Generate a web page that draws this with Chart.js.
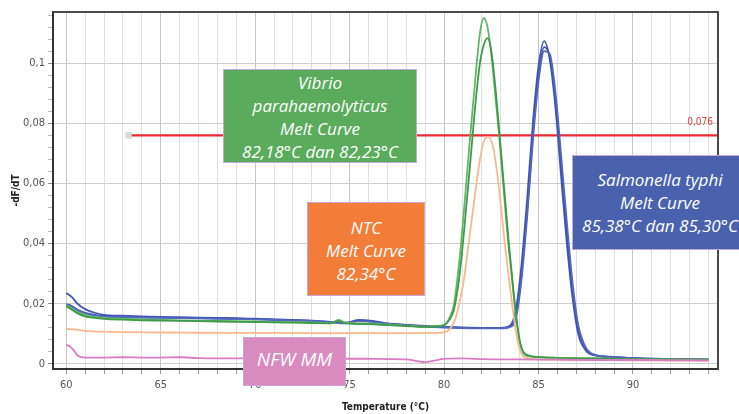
<!DOCTYPE html>
<html>
<head>
<meta charset="utf-8">
<script src="https://cdn.jsdelivr.net/npm/chart.js@4/dist/chart.umd.min.js"></script>
<style>
  html, body { margin:0; padding:0; background:#fff; width:739px; height:414px; overflow:hidden; }
  #wrap { position:relative; width:739px; height:414px; }
  canvas { position:absolute; left:0; top:0; }
  .box { position:absolute; color:#fff; font-family:"Open Sans", Lato, sans-serif; font-style:italic;
         font-size:17px; line-height:23px; text-align:center; display:flex; flex-direction:column;
         justify-content:center; border:1px solid #c9a6d8; box-sizing:border-box; white-space:nowrap; }
</style>
</head>
<body>
<div id="wrap">
  <canvas id="c" width="739" height="414"></canvas>
  <div class="box" style="left:223px;top:69px;width:194px;height:94px;background:#5bab5d;padding-top:2px;">
    <div>Vibrio</div><div>parahaemolyticus</div><div>Melt Curve</div><div>82,18°C dan 82,23°C</div>
  </div>
  <div class="box" style="left:307px;top:202px;width:118px;height:94px;background:#f17d38;padding-top:3px;">
    <div>NTC</div><div>Melt Curve</div><div>82,34°C</div>
  </div>
  <div class="box" style="left:572px;top:155px;width:176px;height:95px;background:#4a62ae;">
    <div>Salmonella typhi</div><div>Melt Curve</div><div>85,38°C dan 85,30°C</div>
  </div>
  <div class="box" style="left:243px;top:337px;width:103px;height:49px;background:#d98abf;font-size:19px;padding-bottom:4px;">
    <div>NFW MM</div>
  </div>
</div>
<script>
// ---------- DATA ----------
const xTickLabels = [60, 65, 70, 75, 80, 85, 90];
const yTickLabels = [0, 0.02, 0.04, 0.06, 0.08, 0.1];

const thresholdValue = 0.076;
const thresholdStart = 63.3;

const vibrioTemps = [60, 60.3, 60.6, 61, 61.5, 62, 63, 64, 65, 66, 67, 68, 69, 70, 71, 72, 73, 74, 74.4, 74.8, 76, 77, 78, 79, 79.6, 80, 80.3, 80.5, 80.7, 80.9, 81.1, 81.4, 81.7, 81.9, 82.1, 82.3, 82.5, 82.7, 82.9, 83.2, 83.4, 83.6, 83.8, 84.0, 84.2, 84.5, 85, 86, 88, 90, 92, 94];
const vibrioA = [0.0196, 0.0185, 0.0172, 0.0162, 0.0156, 0.0153, 0.0150, 0.0148, 0.0146, 0.0145, 0.0144, 0.0143, 0.0142, 0.0141, 0.0140, 0.0139, 0.0138, 0.0136, 0.0146, 0.0137, 0.0134, 0.0131, 0.0127, 0.0124, 0.0126, 0.0130, 0.0155, 0.0190, 0.0280, 0.0400, 0.0545, 0.0770, 0.0980, 0.1100, 0.1150, 0.1120, 0.1030, 0.0900, 0.0770, 0.0545, 0.0400, 0.0280, 0.0160, 0.0070, 0.0035, 0.0025, 0.0022, 0.0020, 0.0018, 0.0016, 0.0015, 0.0014];
const vibrioB = [0.0192, 0.0180, 0.0168, 0.0158, 0.0153, 0.0150, 0.0147, 0.0145, 0.0144, 0.0143, 0.0142, 0.0141, 0.0140, 0.0139, 0.0138, 0.0137, 0.0136, 0.0135, 0.0142, 0.0135, 0.0132, 0.0129, 0.0126, 0.0123, 0.0124, 0.0128, 0.0148, 0.0175, 0.0240, 0.0340, 0.0470, 0.0680, 0.0890, 0.1000, 0.1060, 0.1083, 0.1040, 0.0930, 0.0790, 0.0570, 0.0420, 0.0290, 0.0170, 0.0080, 0.0040, 0.0028, 0.0023, 0.0020, 0.0018, 0.0016, 0.0015, 0.0014];

const ntcTemps = [60, 60.5, 61, 62, 64, 66, 68, 70, 72, 74, 76, 78, 79, 80, 80.3, 80.6, 80.8, 81.05, 81.3, 81.6, 81.9, 82.1, 82.34, 82.6, 82.8, 83.0, 83.2, 83.4, 83.6, 83.8, 84.0, 84.2, 84.5, 85, 86, 88, 90, 92, 94];
const ntcValues = [0.0116, 0.0114, 0.0110, 0.0107, 0.0105, 0.0104, 0.0103, 0.0103, 0.0103, 0.0102, 0.0103, 0.0102, 0.0103, 0.0105, 0.0115, 0.0150, 0.0200, 0.0280, 0.0400, 0.0545, 0.0680, 0.0740, 0.0755, 0.0720, 0.0640, 0.0530, 0.0410, 0.0300, 0.0200, 0.0110, 0.0050, 0.0025, 0.0018, 0.0015, 0.0014, 0.0013, 0.0012, 0.0011, 0.0011];

const salmTemps = [60, 60.3, 60.6, 61, 61.5, 62, 63, 64, 65, 66, 67, 68, 69, 70, 71, 72, 73, 74, 74.8, 75.5, 76.2, 77, 78, 79, 80, 81, 82, 83, 83.5, 83.8, 84.1, 84.4, 84.7, 85, 85.3, 85.6, 85.9, 86.2, 86.5, 86.8, 87.1, 87.5, 88, 89, 90, 92, 94];
const salmA = [0.0236, 0.0222, 0.0200, 0.0182, 0.0170, 0.0163, 0.0160, 0.0158, 0.0156, 0.0155, 0.0154, 0.0153, 0.0152, 0.0150, 0.0148, 0.0146, 0.0144, 0.0140, 0.0137, 0.0146, 0.0143, 0.0135, 0.0130, 0.0126, 0.0123, 0.0121, 0.0120, 0.0120, 0.0128, 0.0180, 0.0330, 0.0550, 0.0800, 0.0990, 0.1073, 0.1010, 0.0850, 0.0620, 0.0400, 0.0220, 0.0100, 0.0045, 0.0028, 0.0022, 0.0019, 0.0016, 0.0014];
const salmB = [0.0199, 0.0192, 0.0180, 0.0170, 0.0163, 0.0159, 0.0156, 0.0155, 0.0154, 0.0153, 0.0152, 0.0151, 0.0150, 0.0149, 0.0147, 0.0145, 0.0143, 0.0139, 0.0136, 0.0144, 0.0141, 0.0134, 0.0129, 0.0125, 0.0122, 0.0120, 0.0119, 0.0119, 0.0125, 0.0160, 0.0300, 0.0510, 0.0760, 0.0960, 0.1053, 0.1020, 0.0880, 0.0660, 0.0440, 0.0250, 0.0120, 0.0050, 0.0029, 0.0022, 0.0019, 0.0016, 0.0014];
const salmC = [0.0197, 0.0190, 0.0178, 0.0168, 0.0161, 0.0157, 0.0155, 0.0154, 0.0153, 0.0152, 0.0151, 0.0150, 0.0149, 0.0148, 0.0146, 0.0144, 0.0142, 0.0138, 0.0135, 0.0142, 0.0140, 0.0133, 0.0128, 0.0124, 0.0121, 0.0119, 0.0118, 0.0118, 0.0123, 0.0150, 0.0280, 0.0490, 0.0740, 0.0940, 0.1040, 0.1030, 0.0900, 0.0690, 0.0470, 0.0270, 0.0130, 0.0055, 0.0030, 0.0023, 0.0019, 0.0016, 0.0015];

const nfwTemps = [60, 60.2, 60.4, 60.6, 61, 62, 63, 64, 65, 66, 67, 68, 70, 72, 74, 76, 77, 78, 78.6, 79, 79.4, 80, 81, 82, 84, 86, 88, 90, 92, 94];
const nfwValues = [0.0063, 0.0058, 0.0045, 0.0028, 0.0021, 0.0021, 0.0022, 0.0021, 0.0021, 0.0022, 0.0019, 0.0018, 0.0018, 0.0017, 0.0017, 0.0017, 0.0016, 0.0015, 0.0009, 0.0006, 0.0010, 0.0017, 0.0018, 0.0016, 0.0015, 0.0014, 0.0013, 0.0013, 0.0012, 0.0011];

// ---------- CHART ----------
const pts = (xs, ys) => xs.map((x, i) => ({x: x, y: ys[i]}));
const line = (xs, ys, color, w) => ({
  data: pts(xs, ys), borderColor: color, borderWidth: w || 1.8, pointRadius: 0,
  cubicInterpolationMode: 'monotone', fill: false
});
const isMajorY = v => Math.abs(v / 0.02 - Math.round(v / 0.02)) < 1e-6;
const fmt = v => String(v).replace('.', ',');
const axisFont = '"Liberation Sans Narrow", "DejaVu Sans Condensed", sans-serif';

const frame = {
  id: 'frame',
  afterDatasetsDraw(chart) {
    const {ctx, chartArea: a, scales: {y}} = chart;
    ctx.save();
    ctx.strokeStyle = '#4a4a4a'; ctx.lineWidth = 2;
    ctx.beginPath();
    ctx.moveTo(a.left, a.top); ctx.lineTo(a.right, a.top); ctx.lineTo(a.right, a.bottom);
    ctx.stroke();
    ctx.fillStyle = '#e8403f';
    ctx.font = '10px ' + axisFont;
    ctx.textAlign = 'right'; ctx.textBaseline = 'middle';
    ctx.fillText(fmt(thresholdValue), a.right - 5, y.getPixelForValue(thresholdValue) - 13);
    ctx.restore();
  }
};

new Chart(document.getElementById('c'), {
  type: 'line',
  data: {
    datasets: [
      line(nfwTemps, nfwValues, '#d97cc4'),
      line(ntcTemps, ntcValues, '#f9b88e'),
      line(vibrioTemps, vibrioB, '#3f9a4c'),
      line(vibrioTemps, vibrioA, '#63b863'),
      line(salmTemps, salmC, '#5468c0'),
      line(salmTemps, salmB, '#3a4fb0'),
      line(salmTemps, salmA, '#4457b8'),
      {
        data: [{x: thresholdStart, y: thresholdValue}, {x: 94.5, y: thresholdValue}],
        borderColor: '#ea2a30', borderWidth: 2.2,
        pointRadius: [3, 0], pointStyle: 'rect', pointBackgroundColor: '#d9d9d9', pointBorderColor: '#d9d9d9'
      }
    ]
  },
  options: {
    responsive: false, animation: false, devicePixelRatio: 1,
    layout: { padding: { top: 12, right: 21, left: 0, bottom: 0 } },
    plugins: { legend: { display: false }, tooltip: { enabled: false } },
    scales: {
      x: {
        type: 'linear', min: 59.3, max: 94.5,
        afterFit(s) { s.height = 45; },
        border: { color: '#333', width: 2 },
        grid: {
          color: c => (c.tick && c.tick.value % 5 === 0) ? '#c6c6c6' : '#e0e0e0',
          tickColor: '#9a9a9a', tickLength: 5, lineWidth: 1
        },
        ticks: {
          stepSize: 1, includeBounds: false, autoSkip: false, maxRotation: 0, padding: 5,
          color: '#555', font: { family: axisFont, size: 11 },
          callback: v => xTickLabels.includes(v) ? String(v) : ''
        },
        title: {
          display: true, text: 'Temperature (°C)', color: '#222',
          font: { family: axisFont, size: 10, weight: 'bold' },
          padding: { top: 0, bottom: 1 }
        }
      },
      y: {
        type: 'linear', min: -0.0017, max: 0.117,
        afterFit(s) { s.width = 53; },
        border: { color: '#333', width: 2 },
        grid: {
          color: c => (c.tick && isMajorY(c.tick.value)) ? '#cdcdcd' : 'rgba(0,0,0,0)',
          tickColor: c => (c.tick && isMajorY(c.tick.value)) ? '#888' : '#bbb',
          tickLength: 5
        },
        ticks: {
          stepSize: 0.004, includeBounds: false, autoSkip: false, padding: 3,
          color: '#555', font: { family: axisFont, size: 11 },
          callback: v => yTickLabels.some(t => Math.abs(t - v) < 1e-9) ? fmt(v) : ''
        },
        title: {
          display: true, text: '-dF/dT', color: '#222',
          font: { family: axisFont, size: 10, weight: 'bold' },
          padding: { top: 10, bottom: 0 }
        }
      }
    }
  },
  plugins: [frame]
});
</script>
</body>
</html>
